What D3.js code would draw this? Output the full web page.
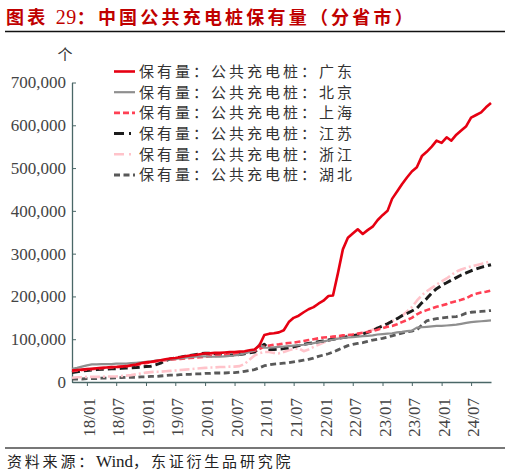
<!DOCTYPE html>
<html>
<head>
<meta charset="utf-8">
<script src="https://cdn.jsdelivr.net/npm/d3@7"></script>
<style>
  body { margin: 0; background: #fff; }
  svg { display: block; }
</style>
</head>
<body>
<svg width="510" height="476"></svg>
<script>
const width = 510;
const height = 476;
const plot_left = 72;
const plot_right = 491;
const plot_top = 82.5;
const plot_bottom = 382;

const title_head = "图表 ";
const title_num = "29";
const title_rest = "：中国公共充电桩保有量（分省市）";
const unit_label = "个";
const source_cn = "资料来源：";
const source_rest = "，东证衍生品研究院";

// monthly, 2017-10 .. 2024-11
const first_month = "2017-10";
const month_count = 86;
const x_tick_labels = ["18/01", "18/07", "19/01", "19/07", "20/01", "20/07", "21/01",
  "21/07", "22/01", "22/07", "23/01", "23/07", "24/01", "24/07"];
const y_ticks = [0, 100000, 200000, 300000, 400000, 500000, 600000, 700000];

const series_names = ["保有量：公共充电桩：广东", "保有量：公共充电桩：北京",
  "保有量：公共充电桩：上海", "保有量：公共充电桩：江苏",
  "保有量：公共充电桩：浙江", "保有量：公共充电桩：湖北"];

// values in thousands of piles
const guangdong = [27, 28, 29, 30, 31, 32, 33, 34, 35, 35, 36, 37, 39, 41, 44, 46, 47, 49, 51, 53,
  55, 56, 58, 60, 62, 63, 65, 67, 67, 68, 68, 69, 70, 70, 71, 72, 74, 76, 85, 110,
  113, 114, 116, 121, 140, 150, 155, 163, 170, 175, 183, 190, 201, 202, 255, 310, 337, 347, 357, 346,
  355, 363, 378, 390, 400, 428, 445, 462, 478, 492, 502, 528, 538, 550, 564, 559, 572, 564, 578, 588,
  598, 618, 624, 630, 642, 652];
const beijing = [31, 33, 36, 39, 41, 41, 42, 42, 42, 43, 43, 43, 44, 45, 46, 47, 48, 50, 51, 52,
  53, 54, 55, 57, 58, 59, 60, 60, 59, 59, 59, 60, 61, 62, 64, 67, 70, 74, 88, 80,
  80, 81, 82, 83, 84, 85, 86, 87, 89, 91, 93, 95, 97, 99, 101, 103, 104, 105, 106, 107,
  108, 109, 111, 112, 113, 114, 116, 117, 119, 120, 127, 128, 129, 130, 131, 131, 132, 133, 134, 136,
  138, 140, 141, 142, 143, 144];
const shanghai = [25, 27, 28, 29, 30, 31, 32, 33, 34, 35, 36, 37, 38, 40, 42, 44, 46, 48, 50, 51,
  52, 53, 54, 55, 56, 57, 58, 59, 60, 61, 62, 63, 64, 65, 67, 69, 71, 73, 77, 83,
  85, 87, 88, 90, 91, 92, 94, 96, 98, 100, 102, 104, 105, 106, 107, 109, 110, 111, 113, 115,
  117, 119, 122, 126, 129, 131, 135, 140, 145, 150, 158, 164, 168, 172, 176, 179, 182, 186, 189, 192,
  196, 202, 206, 209, 211, 214];
const jiangsu = [22, 24, 26, 27, 28, 29, 30, 30, 31, 31, 32, 33, 33, 34, 35, 36, 37, 40, 44, 50,
  54, 56, 58, 60, 62, 64, 66, 67, 67, 66, 65, 64, 63, 63, 64, 66, 68, 70, 80, 88,
  76, 76, 77, 78, 80, 82, 85, 88, 90, 92, 94, 96, 98, 100, 102, 104, 106, 108, 110, 112,
  116, 120, 126, 131, 136, 142, 148, 155, 160, 166, 172, 185, 195, 208, 218, 226, 232, 238, 244, 250,
  255, 260, 264, 268, 271, 274];
const zhejiang = [10, 11, 11, 12, 12, 12, 12, 13, 13, 13, 14, 15, 16, 18, 20, 22, 23, 24, 24, 25,
  26, 27, 28, 29, 30, 31, 32, 33, 34, 34, 35, 35, 36, 36, 37, 42, 52, 62, 67, 70,
  70, 68, 67, 70, 74, 77, 79, 72, 76, 82, 87, 92, 96, 100, 103, 106, 108, 110, 112, 115,
  118, 122, 127, 132, 137, 142, 148, 155, 165, 175, 190, 203, 212, 220, 228, 235, 242, 250, 258, 263,
  267, 270, 273, 276, 279, 282];
const hubei = [7, 7, 7, 8, 8, 8, 9, 9, 9, 10, 10, 11, 11, 11, 12, 12, 13, 13, 14, 15,
  16, 16, 17, 18, 18, 19, 19, 20, 20, 21, 21, 21, 22, 22, 23, 25, 27, 29, 33, 38,
  40, 42, 43, 44, 45, 47, 49, 51, 53, 56, 60, 63, 66, 70, 75, 80, 85, 88, 90, 92,
  95, 98, 100, 102, 105, 108, 111, 114, 117, 119, 122, 133, 143, 146, 148, 150, 151, 152, 153, 156,
  161, 163, 164, 165, 166, 167];

const series_values = [guangdong, beijing, shanghai, jiangsu, zhejiang, hubei];
const series_colors = ["#e60012", "#8f8f8f", "#ff4054", "#1c1c1c", "#ffc3ca", "#595959"];
const series_widths = [2.6, 2.2, 2.6, 3, 2.6, 2.8];
const series_dash = [null, null, "6,3", "8,4", "10,3,2,3", "6,3.5"];
const legend_dash = [null, null, "6,3", "10,5,2,6", "10,5,2,6", "6,3.5"];

let svg = d3.select("svg");
svg.append("rect").attr("width", width).attr("height", height).attr("fill", "#fff");

const cn_font = "'Noto Sans CJK SC', sans-serif";
const num_font = "'Liberation Serif', 'Times New Roman', serif";

// title and rules
let ttl = svg.append("text")
  .attr("x", 6).attr("y", 23.5)
  .attr("fill", "#c00000")
  .style("font-family", cn_font)
  .style("font-size", "18px")
  .style("font-weight", "bold")
  .style("letter-spacing", "3.2px");
ttl.append("tspan").text(title_head);
ttl.append("tspan").style("font-family", num_font).style("font-size", "20px")
  .style("font-weight", "normal").style("letter-spacing", "0.5px").text(title_num);
ttl.append("tspan").text(title_rest);

svg.append("line")
  .attr("x1", 5).attr("x2", 505).attr("y1", 31.5).attr("y2", 31.5)
  .attr("stroke", "#111").attr("stroke-width", 1.3);
svg.append("line")
  .attr("x1", 5).attr("x2", 505).attr("y1", 448).attr("y2", 448)
  .attr("stroke", "#777").attr("stroke-width", 2);

// source
let src = svg.append("text")
  .attr("x", 7).attr("y", 467)
  .attr("fill", "#222")
  .style("font-family", cn_font)
  .style("font-size", "15px")
  .style("letter-spacing", "2.8px");
src.append("tspan").text(source_cn);
src.append("tspan").style("font-family", num_font).style("font-size", "17px")
  .style("letter-spacing", "0px").text("Wind");
src.append("tspan").text(source_rest);

// scales
const parse = d3.timeParse("%Y-%m");
const start = parse(first_month);
const months = d3.timeMonth.range(start, d3.timeMonth.offset(start, month_count));
const x = d3.scaleTime()
  .domain([months[0], months[months.length - 1]])
  .range([plot_left, plot_right]);
const y = d3.scaleLinear()
  .domain([0, 700000])
  .range([plot_bottom, plot_top]);

// y axis
const axis_color = "#4a6767";
let y_axis = svg.append("g")
  .attr("transform", `translate(${plot_left},0)`)
  .call(d3.axisLeft(y).tickValues(y_ticks).tickSizeInner(-4).tickSizeOuter(0)
    .tickPadding(6).tickFormat(d3.format(",")));
y_axis.attr("font-family", null);
y_axis.select(".domain").attr("stroke", axis_color).attr("stroke-width", 1.3);
y_axis.selectAll(".tick line").attr("stroke", axis_color);
y_axis.selectAll("text")
  .attr("fill", "#444")
  .style("font-family", num_font)
  .style("font-size", "17px");

// x axis
const x_tick_dates = x_tick_labels.map(d => d3.timeParse("%y/%m")(d));
let x_axis = svg.append("g")
  .attr("transform", `translate(0,${plot_bottom})`)
  .call(d3.axisBottom(x).tickValues(x_tick_dates).tickSizeInner(4).tickSizeOuter(0)
    .tickFormat(d3.timeFormat("%y/%m")));
x_axis.attr("font-family", null);
x_axis.select(".domain").attr("stroke", axis_color).attr("stroke-width", 1.3);
x_axis.selectAll(".tick line").attr("stroke", axis_color);
x_axis.selectAll("text")
  .attr("transform", "rotate(-90)")
  .attr("x", -16)
  .attr("y", 0)
  .attr("dy", "0.45em")
  .attr("text-anchor", "end")
  .attr("fill", "#444")
  .style("font-family", num_font)
  .style("font-size", "17px");

// unit
svg.append("text")
  .attr("x", 65).attr("y", 60)
  .attr("text-anchor", "middle")
  .attr("fill", "#333")
  .style("font-family", cn_font)
  .style("font-size", "15px")
  .text(unit_label);

// lines
const line = d3.line()
  .x((d, i) => x(months[i]))
  .y(d => y(d * 1000))
  .curve(d3.curveLinear);

const draw_order = [5, 4, 3, 2, 1, 0];
draw_order.forEach(function (k) {
  let path = svg.append("path")
    .attr("d", line(series_values[k]))
    .attr("fill", "none")
    .attr("stroke", series_colors[k])
    .attr("stroke-width", series_widths[k])
    .attr("stroke-linejoin", "round");
  if (series_dash[k]) path.attr("stroke-dasharray", series_dash[k]);
});

// legend
const legend_x = 114;
const legend_y = 71.5;
const legend_step = 20.7;
series_names.forEach(function (name, k) {
  const ly = legend_y + k * legend_step;
  let sample = svg.append("line")
    .attr("x1", legend_x).attr("x2", legend_x + 21)
    .attr("y1", ly).attr("y2", ly)
    .attr("stroke", series_colors[k])
    .attr("stroke-width", series_widths[k]);
  if (legend_dash[k]) sample.attr("stroke-dasharray", legend_dash[k]);
  svg.append("text")
    .attr("x", legend_x + 25).attr("y", ly)
    .attr("dy", "0.36em")
    .attr("fill", "#333")
    .style("font-family", cn_font)
    .style("font-size", "15px")
    .style("letter-spacing", "3px")
    .text(name);
});
</script>
</body>
</html>
